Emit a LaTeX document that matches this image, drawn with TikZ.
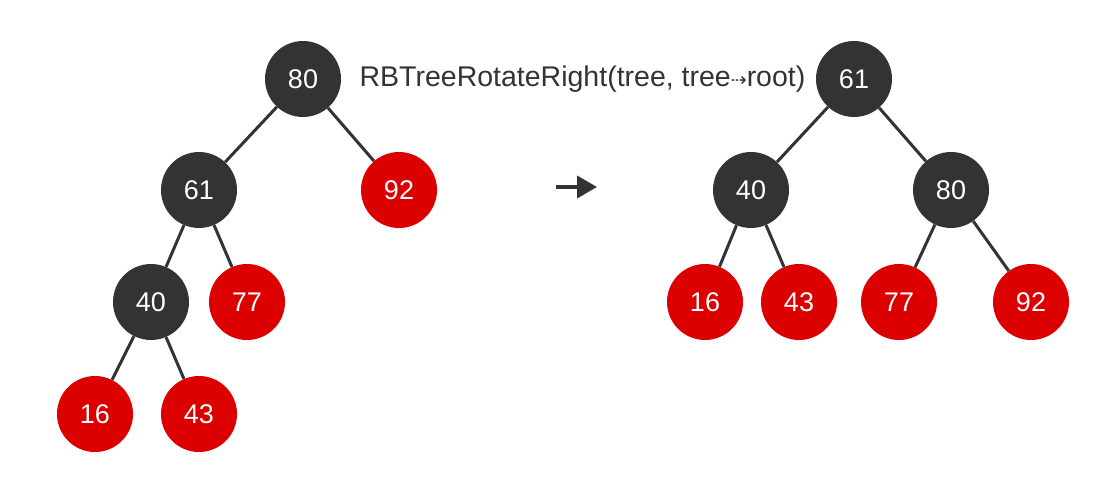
\documentclass[tikz,border=0pt]{standalone}
\usepackage{fontspec}
\setmainfont{Liberation Sans}
\newfontfamily\arrowfont{DejaVu Sans}
\usetikzlibrary{arrows.meta}
\definecolor{nodegray}{HTML}{333333}
\definecolor{nodered}{HTML}{DD0000}
\tikzset{>=Triangle}
\tikzset{
  rbnode/.style={circle,minimum size=76pt,inner sep=0pt,text=white,
    font=\fontsize{27}{27}\selectfont},
  blk/.style={rbnode,fill=nodegray},
  rd/.style={rbnode,fill=nodered},
  edge/.style={draw=nodegray,line width=3pt}
}

\begin{document}
\begin{tikzpicture}[x=1pt,y=-1pt]
\useasboundingbox (0,0) rectangle (1116,492);

% Tree before the rotation
\node [blk] (a80) at (303,79)  {80};
\node [blk] (a61) at (199,190) {61};
\node [rd]  (a92) at (399,190) {92};
\node [blk] (a40) at (151,302) {40};
\node [rd]  (a77) at (247,302) {77};
\node [rd]  (a16) at (95,414)  {16};
\node [rd]  (a43) at (199,414) {43};

\draw [edge] (a80) -- (a61);
\draw [edge] (a80) -- (a92);
\draw [edge] (a61) -- (a40);
\draw [edge] (a61) -- (a77);
\draw [edge] (a40) -- (a16);
\draw [edge] (a40) -- (a43);

% Label of the operation
\node [text=nodegray,font=\fontsize{28.5}{28.5}\selectfont] (op) at (582.5,79)
   {RBTreeRotateRight(tree, tree{\arrowfont\fontsize{19}{19}\selectfont ⇢}root)};

% Arrow between the two trees
\coordinate (arrS) at (556,187);
\coordinate (arrE) at (597,187);
\draw [draw=nodegray,fill=nodegray,line width=4pt,
   -{Triangle[length=20pt,width=22pt]}] (arrS) -- (arrE);

% Tree after the rotation
\node [blk] (b61) at (854,79)  {61};
\node [blk] (b40) at (751,190) {40};
\node [blk] (b80) at (951,190) {80};
\node [rd]  (b16) at (705,302) {16};
\node [rd]  (b43) at (799,302) {43};
\node [rd]  (b77) at (899,302) {77};
\node [rd]  (b92) at (1031,302) {92};

\draw [edge] (b61) -- (b40);
\draw [edge] (b61) -- (b80);
\draw [edge] (b40) -- (b16);
\draw [edge] (b40) -- (b43);
\draw [edge] (b80) -- (b77);
\draw [edge] (b80) -- (b92);
\end{tikzpicture}
\end{document}
